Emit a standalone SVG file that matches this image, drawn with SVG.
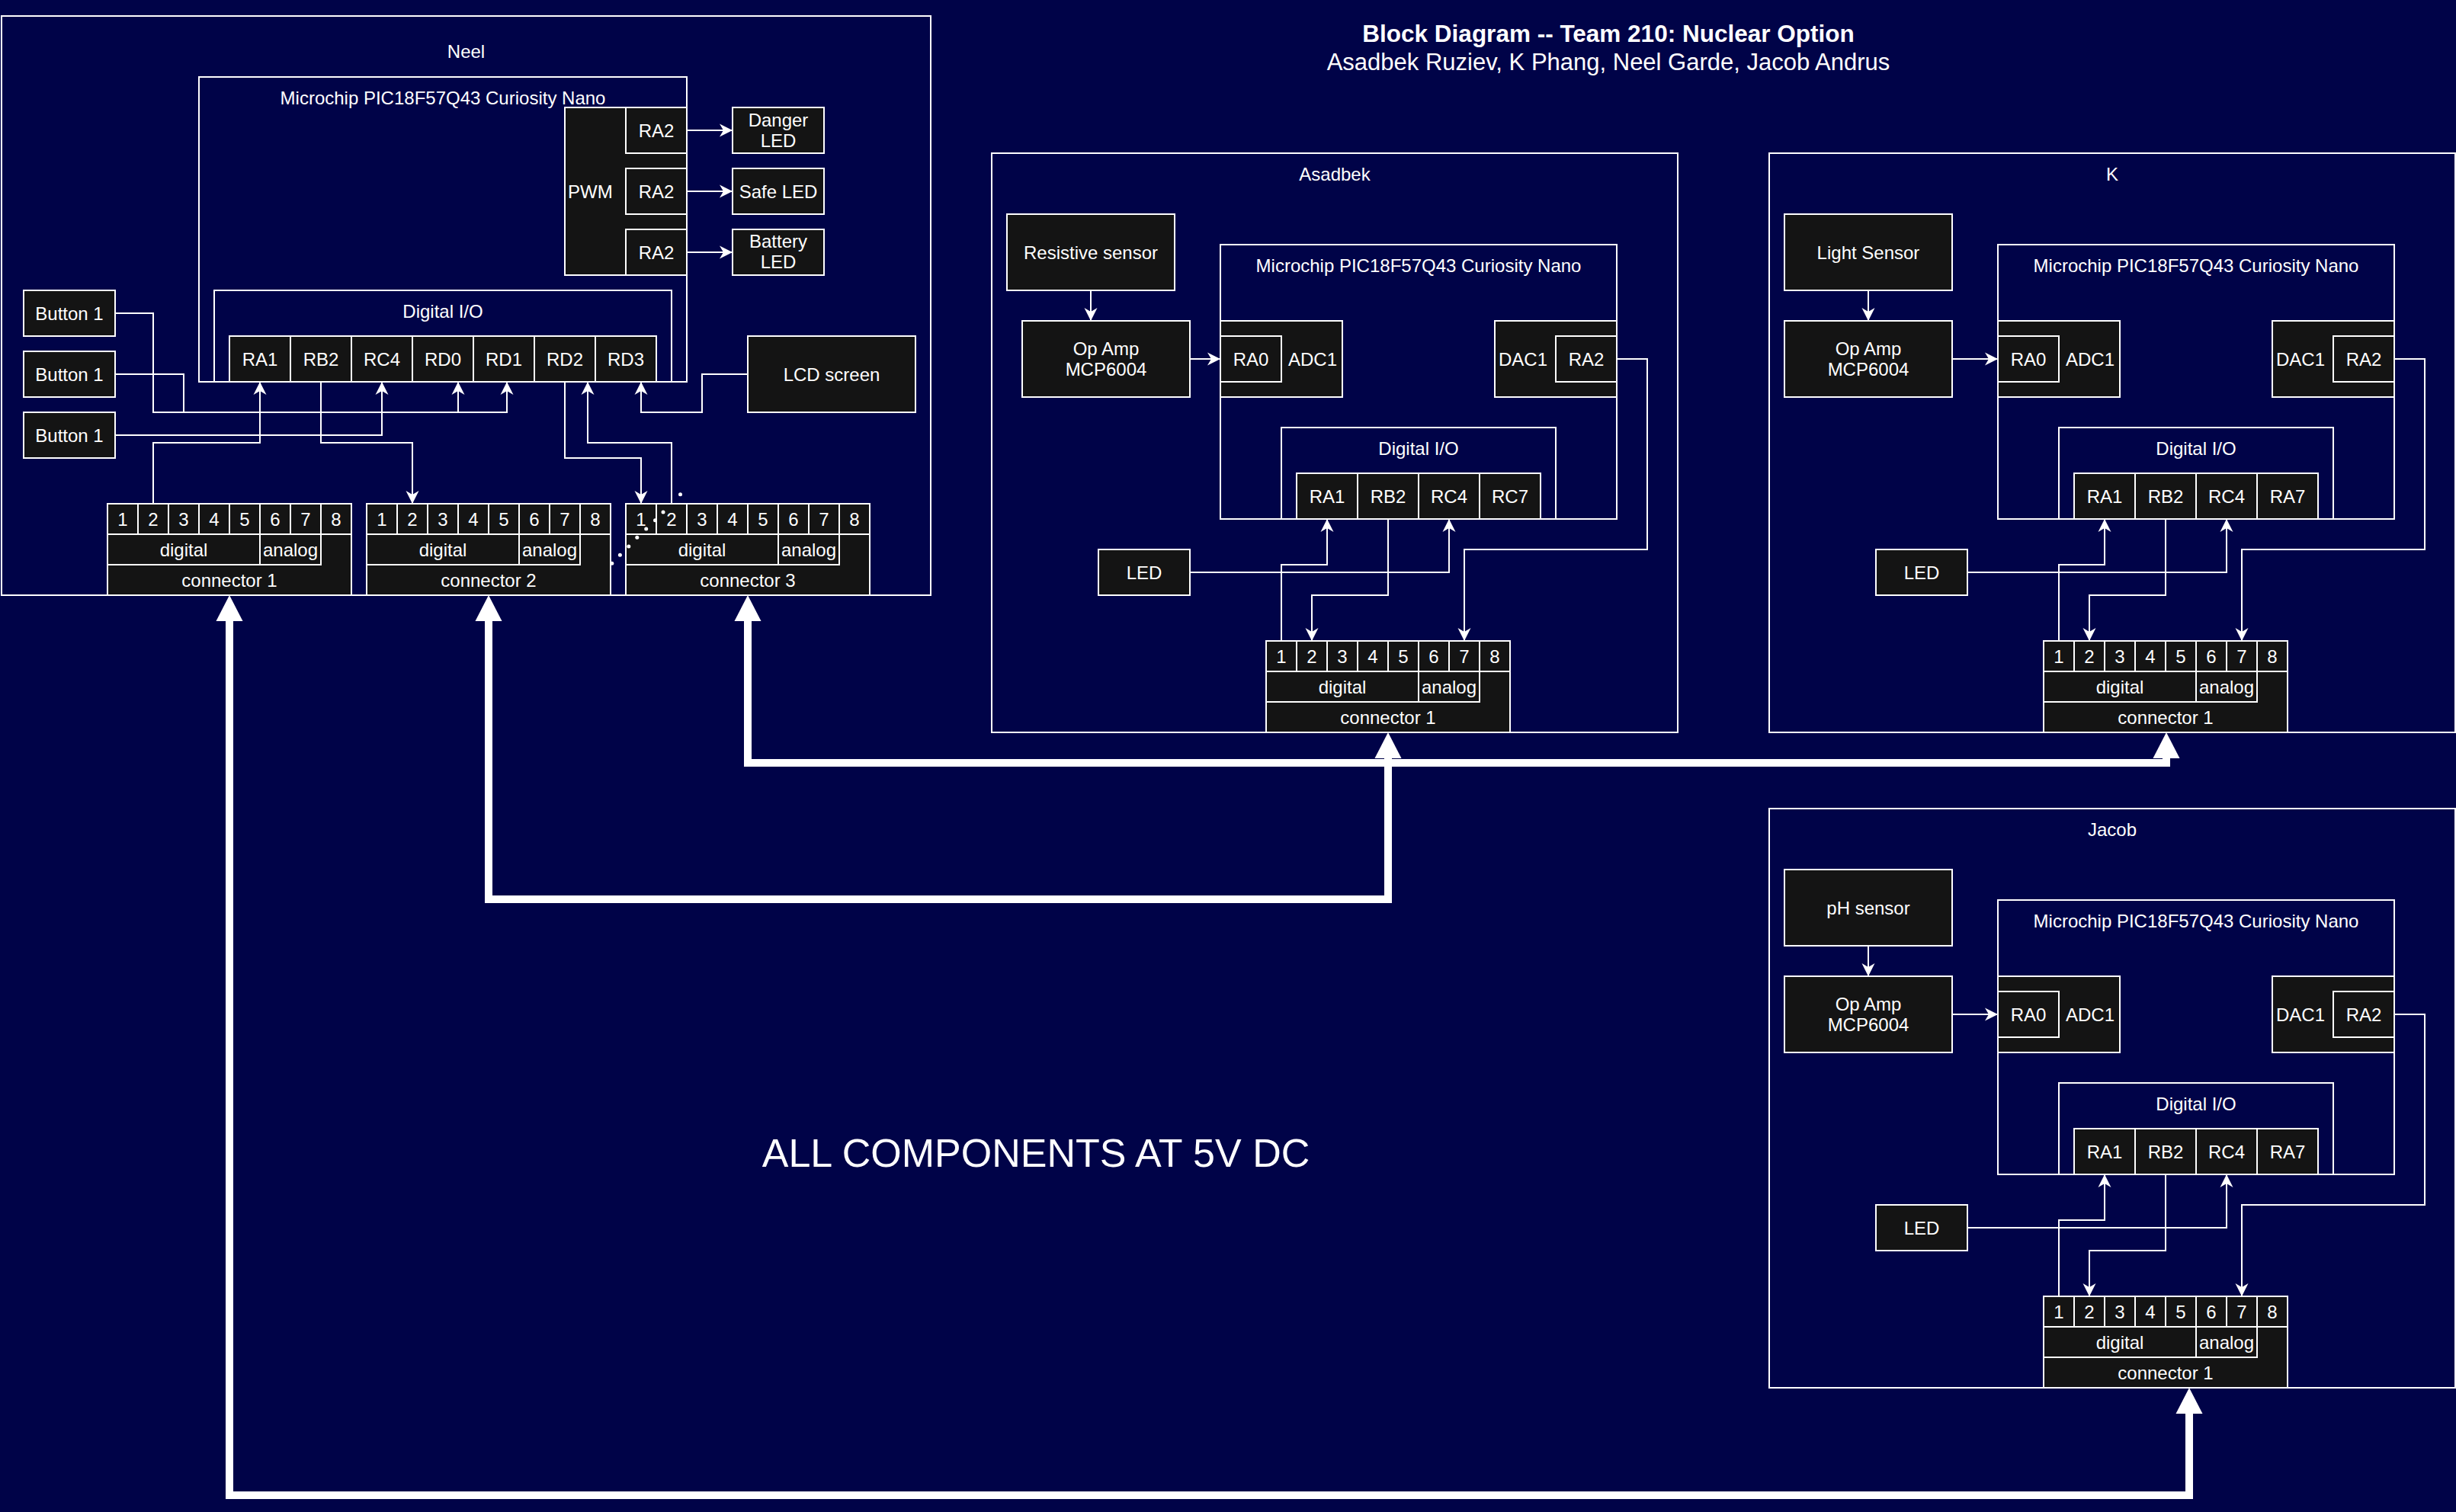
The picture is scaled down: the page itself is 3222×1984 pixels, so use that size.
<svg xmlns="http://www.w3.org/2000/svg" xmlns:xlink="http://www.w3.org/1999/xlink" width="3222" height="1984" viewBox="0 0 3222 1984">
<style>
.f{fill:none;stroke:#fff;stroke-width:2}
.b{fill:#141414;stroke:#fff;stroke-width:2}
.t{font-family:"Liberation Sans",Arial,Helvetica,sans-serif;font-size:24px;fill:#fff;text-anchor:middle}
.s{text-anchor:start}
.w{fill:none;stroke:#fff;stroke-width:2;marker-end:url(#a)}
.k{fill:none;stroke:#fff;stroke-width:10;marker-start:url(#bg);marker-end:url(#bg)}
.d{fill:#fff}
</style>
<defs>
<marker id="a" markerUnits="userSpaceOnUse" markerWidth="20" markerHeight="20" viewBox="-18 -10 20 20" refX="0" refY="0" orient="auto"><path d="M0,0 L-17,-8.5 L-12,0 L-17,8.5 Z" fill="#fff"/></marker>
<marker id="bg" markerUnits="userSpaceOnUse" markerWidth="40" markerHeight="40" viewBox="0 -20 40 40" refX="0" refY="0" orient="auto-start-reverse"><path d="M0,-17.5 L34,0 L0,17.5 Z" fill="#fff"/></marker>
<g id="conn">
<rect class="b" width="320" height="120"/>
<rect class="b" x="0" width="40" height="40"/><rect class="b" x="40" width="40" height="40"/><rect class="b" x="80" width="40" height="40"/><rect class="b" x="120" width="40" height="40"/><rect class="b" x="160" width="40" height="40"/><rect class="b" x="200" width="40" height="40"/><rect class="b" x="240" width="40" height="40"/><rect class="b" x="280" width="40" height="40"/>
<rect class="b" y="40" width="200" height="40"/><rect class="b" x="200" y="40" width="80" height="40"/>
<text class="t" x="20" y="28.5">1</text><text class="t" x="60" y="28.5">2</text><text class="t" x="100" y="28.5">3</text><text class="t" x="140" y="28.5">4</text><text class="t" x="180" y="28.5">5</text><text class="t" x="220" y="28.5">6</text><text class="t" x="260" y="28.5">7</text><text class="t" x="300" y="28.5">8</text>
<text class="t" x="100" y="68.5">digital</text><text class="t" x="240" y="68.5">analog</text>
</g>
</defs>
<rect width="3222" height="1984" fill="#000348"/>

<g id="title">
<text class="t" x="2110" y="55" style="font-size:31.5px;font-weight:bold">Block Diagram -- Team 210: Nuclear Option</text>
<text class="t" x="2110" y="92" style="font-size:31px">Asadbek Ruziev, K Phang, Neel Garde, Jacob Andrus</text>
</g>
<g id="note"><text class="t" x="1359" y="1531" style="font-size:52px">ALL COMPONENTS AT 5V DC</text></g>

<!-- Neel -->
<g id="neel">
<rect class="f" x="2" y="21" width="1219" height="760"/>
<text class="t" x="611.5" y="76">Neel</text>
<g id="neel-mcu"><rect class="f" x="261" y="101" width="640" height="400"/><text class="t" x="581" y="137">Microchip PIC18F57Q43 Curiosity Nano</text></g>
<g id="neel-pwm"><rect class="b" x="741" y="141" width="160" height="220"/><text class="t s" x="745" y="259.5">PWM</text>
<rect class="b" x="821" y="141" width="80" height="60"/><text class="t" x="861" y="179.5">RA2</text>
<rect class="b" x="821" y="221" width="80" height="60"/><text class="t" x="861" y="259.5">RA2</text>
<rect class="b" x="821" y="301" width="80" height="60"/><text class="t" x="861" y="339.5">RA2</text></g>
<g id="neel-danger"><rect class="b" x="961" y="141" width="120" height="60"/><text class="t" x="1021" y="166">Danger</text><text class="t" x="1021" y="193">LED</text></g>
<g id="neel-safe"><rect class="b" x="961" y="221" width="120" height="60"/><text class="t" x="1021" y="259.5">Safe LED</text></g>
<g id="neel-battery"><rect class="b" x="961" y="301" width="120" height="60"/><text class="t" x="1021" y="325">Battery</text><text class="t" x="1021" y="352">LED</text></g>
<g id="neel-dio"><rect class="f" x="281" y="381" width="600" height="120"/><text class="t" x="581" y="417">Digital I/O</text>
<rect class="b" x="301" y="441" width="80" height="60"/><text class="t" x="341" y="479.5">RA1</text>
<rect class="b" x="381" y="441" width="80" height="60"/><text class="t" x="421" y="479.5">RB2</text>
<rect class="b" x="461" y="441" width="80" height="60"/><text class="t" x="501" y="479.5">RC4</text>
<rect class="b" x="541" y="441" width="80" height="60"/><text class="t" x="581" y="479.5">RD0</text>
<rect class="b" x="621" y="441" width="80" height="60"/><text class="t" x="661" y="479.5">RD1</text>
<rect class="b" x="701" y="441" width="80" height="60"/><text class="t" x="741" y="479.5">RD2</text>
<rect class="b" x="781" y="441" width="80" height="60"/><text class="t" x="821" y="479.5">RD3</text></g>
<g id="neel-btn1"><rect class="b" x="31" y="381" width="120" height="60"/><text class="t" x="91" y="419.5">Button 1</text></g>
<g id="neel-btn2"><rect class="b" x="31" y="461" width="120" height="60"/><text class="t" x="91" y="499.5">Button 1</text></g>
<g id="neel-btn3"><rect class="b" x="31" y="541" width="120" height="60"/><text class="t" x="91" y="579.5">Button 1</text></g>
<g id="neel-lcd"><rect class="b" x="981" y="441" width="220" height="100"/><text class="t" x="1091" y="499.5">LCD screen</text></g>
<g id="neel-conn1" transform="translate(141,661)"><use href="#conn"/><text class="t" x="160" y="108.5">connector 1</text></g>
<g id="neel-conn2" transform="translate(481,661)"><use href="#conn"/><text class="t" x="160" y="108.5">connector 2</text></g>
<g id="neel-conn3" transform="translate(821,661)"><use href="#conn"/><text class="t" x="160" y="108.5">connector 3</text></g>
</g>

<!-- Asadbek -->
<g id="asadbek" transform="translate(1301,201)">
<rect class="f" width="900" height="760"/>
<text class="t" x="450" y="36">Asadbek</text>
<g id="asadbek-sensor"><rect class="b" x="20" y="80" width="220" height="100"/><text class="t" x="130" y="139">Resistive sensor</text></g>
<g id="asadbek-opamp"><rect class="b" x="40" y="220" width="220" height="100"/><text class="t" x="150" y="265">Op Amp</text><text class="t" x="150" y="292">MCP6004</text></g>
<g id="asadbek-mcu"><rect class="f" x="300" y="120" width="520" height="360"/><text class="t" x="560" y="156">Microchip PIC18F57Q43 Curiosity Nano</text></g>
<g id="asadbek-adc"><rect class="b" x="300" y="220" width="160" height="100"/><rect class="b" x="300" y="240" width="80" height="60"/><text class="t" x="340" y="278.5">RA0</text><text class="t" x="421" y="278.5">ADC1</text></g>
<g id="asadbek-dac"><rect class="b" x="660" y="220" width="160" height="100"/><rect class="b" x="740" y="240" width="80" height="60"/><text class="t" x="697" y="278.5">DAC1</text><text class="t" x="780" y="278.5">RA2</text></g>
<g id="asadbek-dio"><rect class="f" x="380" y="360" width="360" height="120"/><text class="t" x="560" y="396">Digital I/O</text>
<rect class="b" x="400" y="420" width="80" height="60"/><text class="t" x="440" y="458.5">RA1</text>
<rect class="b" x="480" y="420" width="80" height="60"/><text class="t" x="520" y="458.5">RB2</text>
<rect class="b" x="560" y="420" width="80" height="60"/><text class="t" x="600" y="458.5">RC4</text>
<rect class="b" x="640" y="420" width="80" height="60"/><text class="t" x="680" y="458.5">RC7</text></g>
<g id="asadbek-led"><rect class="b" x="140" y="520" width="120" height="60"/><text class="t" x="200" y="558.5">LED</text></g>
<g id="asadbek-conn" transform="translate(360,640)"><use href="#conn"/><text class="t" x="160" y="108.5">connector 1</text></g>
</g>

<!-- K -->
<g id="k" transform="translate(2321,201)">
<rect class="f" width="900" height="760"/>
<text class="t" x="450" y="36">K</text>
<g id="k-sensor"><rect class="b" x="20" y="80" width="220" height="100"/><text class="t" x="130" y="139">Light Sensor</text></g>
<g id="k-opamp"><rect class="b" x="20" y="220" width="220" height="100"/><text class="t" x="130" y="265">Op Amp</text><text class="t" x="130" y="292">MCP6004</text></g>
<g id="k-mcu"><rect class="f" x="300" y="120" width="520" height="360"/><text class="t" x="560" y="156">Microchip PIC18F57Q43 Curiosity Nano</text></g>
<g id="k-adc"><rect class="b" x="300" y="220" width="160" height="100"/><rect class="b" x="300" y="240" width="80" height="60"/><text class="t" x="340" y="278.5">RA0</text><text class="t" x="421" y="278.5">ADC1</text></g>
<g id="k-dac"><rect class="b" x="660" y="220" width="160" height="100"/><rect class="b" x="740" y="240" width="80" height="60"/><text class="t" x="697" y="278.5">DAC1</text><text class="t" x="780" y="278.5">RA2</text></g>
<g id="k-dio"><rect class="f" x="380" y="360" width="360" height="120"/><text class="t" x="560" y="396">Digital I/O</text>
<rect class="b" x="400" y="420" width="80" height="60"/><text class="t" x="440" y="458.5">RA1</text>
<rect class="b" x="480" y="420" width="80" height="60"/><text class="t" x="520" y="458.5">RB2</text>
<rect class="b" x="560" y="420" width="80" height="60"/><text class="t" x="600" y="458.5">RC4</text>
<rect class="b" x="640" y="420" width="80" height="60"/><text class="t" x="680" y="458.5">RA7</text></g>
<g id="k-led"><rect class="b" x="140" y="520" width="120" height="60"/><text class="t" x="200" y="558.5">LED</text></g>
<g id="k-conn" transform="translate(360,640)"><use href="#conn"/><text class="t" x="160" y="108.5">connector 1</text></g>
</g>

<!-- Jacob -->
<g id="jacob" transform="translate(2321,1061)">
<rect class="f" width="900" height="760"/>
<text class="t" x="450" y="36">Jacob</text>
<g id="jacob-sensor"><rect class="b" x="20" y="80" width="220" height="100"/><text class="t" x="130" y="139">pH sensor</text></g>
<g id="jacob-opamp"><rect class="b" x="20" y="220" width="220" height="100"/><text class="t" x="130" y="265">Op Amp</text><text class="t" x="130" y="292">MCP6004</text></g>
<g id="jacob-mcu"><rect class="f" x="300" y="120" width="520" height="360"/><text class="t" x="560" y="156">Microchip PIC18F57Q43 Curiosity Nano</text></g>
<g id="jacob-adc"><rect class="b" x="300" y="220" width="160" height="100"/><rect class="b" x="300" y="240" width="80" height="60"/><text class="t" x="340" y="278.5">RA0</text><text class="t" x="421" y="278.5">ADC1</text></g>
<g id="jacob-dac"><rect class="b" x="660" y="220" width="160" height="100"/><rect class="b" x="740" y="240" width="80" height="60"/><text class="t" x="697" y="278.5">DAC1</text><text class="t" x="780" y="278.5">RA2</text></g>
<g id="jacob-dio"><rect class="f" x="380" y="360" width="360" height="120"/><text class="t" x="560" y="396">Digital I/O</text>
<rect class="b" x="400" y="420" width="80" height="60"/><text class="t" x="440" y="458.5">RA1</text>
<rect class="b" x="480" y="420" width="80" height="60"/><text class="t" x="520" y="458.5">RB2</text>
<rect class="b" x="560" y="420" width="80" height="60"/><text class="t" x="600" y="458.5">RC4</text>
<rect class="b" x="640" y="420" width="80" height="60"/><text class="t" x="680" y="458.5">RA7</text></g>
<g id="jacob-led"><rect class="b" x="140" y="520" width="120" height="60"/><text class="t" x="200" y="558.5">LED</text></g>
<g id="jacob-conn" transform="translate(360,640)"><use href="#conn"/><text class="t" x="160" y="108.5">connector 1</text></g>
</g>

<g id="connectors">
<g id="neel-wires">
<path class="w" d="M901,171 H961"/>
<path class="w" d="M901,251 H961"/>
<path class="w" d="M901,331 H961"/>
<path class="w" d="M151,411 H201 V541 H601 V501"/>
<path class="w" d="M151,491 H241 V541 H665 V501"/>
<path class="w" d="M151,571 H501 V501"/>
<path class="w" d="M201,661 V581 H341 V501"/>
<path class="w" d="M421,501 V581 H541 V661"/>
<path class="w" d="M741,501 V601 H841 V661"/>
<path class="w" d="M881,661 V581 H771 V501"/>
<path class="w" d="M981,491 H921 V541 H841 V501"/>
<g class="d"><circle cx="892.5" cy="648.7" r="2.5"/><circle cx="870" cy="672" r="2.5"/><circle cx="859.5" cy="682.7" r="2.5"/><circle cx="847.7" cy="694" r="2.5"/><circle cx="835.8" cy="705.3" r="2.5"/><circle cx="824.8" cy="717" r="2.5"/><circle cx="813.4" cy="728.3" r="2.5"/><circle cx="802.8" cy="739.3" r="2.5"/></g>
</g>
<g id="asadbek-wires" transform="translate(1301,201)">
<path class="w" d="M130,180 V220"/>
<path class="w" d="M260,270 H300"/>
<path class="w" d="M820,270 H860 V520 H620 V640"/>
<path class="w" d="M260,550 H600 V480"/>
<path class="w" d="M380,640 V540 H440 V480"/>
<path class="w" d="M520,480 V580 H420 V640"/>
</g>
<g id="k-wires" transform="translate(2321,201)">
<path class="w" d="M130,180 V220"/>
<path class="w" d="M240,270 H300"/>
<path class="w" d="M820,270 H860 V520 H620 V640"/>
<path class="w" d="M260,550 H600 V480"/>
<path class="w" d="M380,640 V540 H440 V480"/>
<path class="w" d="M520,480 V580 H420 V640"/>
</g>
<g id="jacob-wires" transform="translate(2321,1061)">
<path class="w" d="M130,180 V220"/>
<path class="w" d="M240,270 H300"/>
<path class="w" d="M820,270 H860 V520 H620 V640"/>
<path class="w" d="M260,550 H600 V480"/>
<path class="w" d="M380,640 V540 H440 V480"/>
<path class="w" d="M520,480 V580 H420 V640"/>
</g>
<g id="buses">
<path class="k" d="M301,815 V1962 H2872 V1855"/>
<path class="k" d="M641,815 V1180 H1821 V995"/>
<path class="k" d="M981,815 V1001 H2842 V995"/>
</g>
</g>
</svg>
